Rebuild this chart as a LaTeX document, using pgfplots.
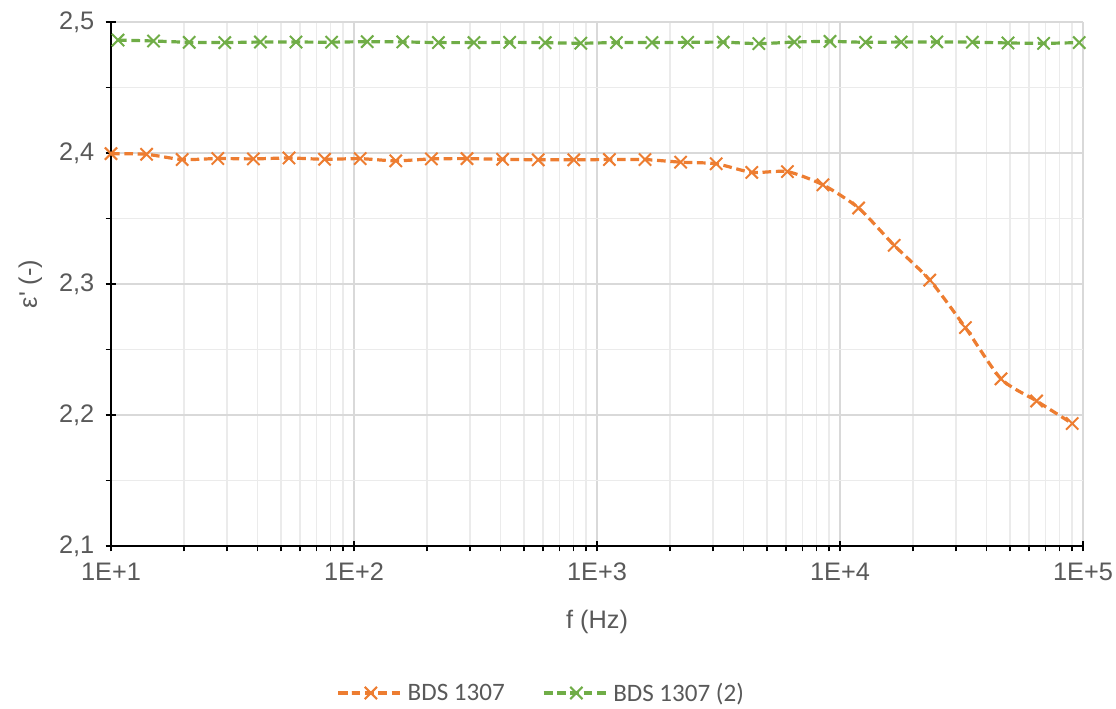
\documentclass[border=0pt]{standalone}
\usepackage{pgfplots}
\pgfplotsset{compat=1.18}
\usepackage{fontspec}
\setmainfont{Liberation Sans}[Ligatures=TeXOff]
\newfontfamily\legendfont{Carlito}

\definecolor{txtgrey}{HTML}{595959}
\definecolor{majgrid}{HTML}{D9D9D9}
\definecolor{mingrid}{HTML}{EBEBEB}
\definecolor{bdsorange}{HTML}{ED7D31}
\definecolor{bdsgreen}{HTML}{70AD47}

\begin{document}
\begin{tikzpicture}
\begin{axis}[
  name=ax,
  scale only axis,
  width=729pt, height=393pt,
  xmode=log, log basis x=10,
  xmin=10, xmax=100000,
  ymin=2.1, ymax=2.5,
  xtick={10,100,1000,10000,100000},
  xticklabels={1E+1,1E+2,1E+3,1E+4,1E+5},
  minor xtick={20,30,40,50,60,70,80,90,
    200,300,400,500,600,700,800,900,
    2000,3000,4000,5000,6000,7000,8000,9000,
    20000,30000,40000,50000,60000,70000,80000,90000},
  ytick={2.1,2.2,2.3,2.4,2.5},
  minor y tick num=1,
  axis x line*=bottom, axis y line*=left,
  axis line style={black, line width=1.1pt, -},
  tick align=center,
  major tick length=8pt, minor tick length=4pt,
  tick style={black, line width=1pt},
  minor x tick style={yshift=-2pt},
  minor y tick style={xshift=-2pt},
  xmajorgrids, xminorgrids, ymajorgrids, yminorgrids,
  major grid style={majgrid, line width=1pt},
  minor grid style={mingrid, line width=1pt},
  /pgf/number format/.cd, use comma, fixed, fixed zerofill, precision=1, assume math mode=true,
  /pgfplots/.cd,
  ticklabel style={font=\fontsize{19pt}{22pt}\selectfont, text=txtgrey},
  yticklabel style={xshift=-5pt},
  xticklabel style={yshift=-5pt},
  xlabel={f (Hz)}, ylabel={ε' (-)},
  label style={font=\fontsize{19pt}{22pt}\selectfont, text=txtgrey},
  xlabel style={at={(0.5,-0.145)}, anchor=center},
  ylabel style={at={(-0.083,0.5)}, anchor=center, rotate=0},
  legend columns=2,
  legend style={at={(0.443,-0.2805)}, anchor=center, draw=none, fill=none,
    font=\legendfont\fontsize{18.8pt}{21pt}\selectfont, text=txtgrey,
    /tikz/every even column/.append style={column sep=26pt}},
  legend image code/.code={\draw[mark repeat=2,mark phase=2,#1]
    plot coordinates {(0cm,0cm) (0.86cm,0cm) (1.72cm,0cm)};},
  every axis plot/.append style={line width=2.4pt, dash pattern=on 6.5pt off 3.5pt,
    smooth, tension=0.4, mark=x, mark size=6.5pt,
    mark options={solid, line width=1.5pt}},
]
\addplot[color=bdsorange] coordinates {
  (10,2.3995) (14.01,2.3990) (19.63,2.3950) (27.51,2.3958) (38.55,2.3955)
  (54.02,2.3962) (75.68,2.3952) (106.0,2.3957) (148.6,2.3940) (208.2,2.3955)
  (291.7,2.3957) (408.8,2.3952) (572.8,2.3948) (802.6,2.3948) (1124.7,2.3950)
  (1575.9,2.3950) (2208,2.3930) (3094,2.3918) (4335,2.3852) (6075,2.3858)
  (8511,2.3757) (11926,2.3580) (16711,2.3295) (23418,2.3030) (32810,2.2667)
  (45973,2.2276) (64417,2.2107) (90259,2.1935)
};
\addlegendentry{BDS 1307}
\addplot[color=bdsgreen] coordinates {
  (10.69,2.4862) (14.97,2.4855) (20.98,2.4845) (29.40,2.4843) (41.20,2.4847)
  (57.73,2.4847) (80.87,2.4846) (113.3,2.4850) (158.8,2.4848) (222.5,2.4843)
  (311.7,2.4843) (436.9,2.4845) (612.1,2.4842) (857.7,2.4838) (1201.9,2.4843)
  (1684,2.4843) (2360,2.4845) (3306,2.4846) (4633,2.4835) (6492,2.4847)
  (9095,2.4852) (12744,2.4845) (17858,2.4847) (25025,2.4848) (35061,2.4846)
  (49128,2.4840) (68837,2.4837) (96452,2.4843)
};
\addlegendentry{BDS 1307 (2)}
\end{axis}
\pgfresetboundingbox
\path[use as bounding box] ([shift={(-83.25pt,-121.5pt)}]ax.south west)
  rectangle ([shift={(753.75pt,409.5pt)}]ax.south west);
\end{tikzpicture}
\end{document}
